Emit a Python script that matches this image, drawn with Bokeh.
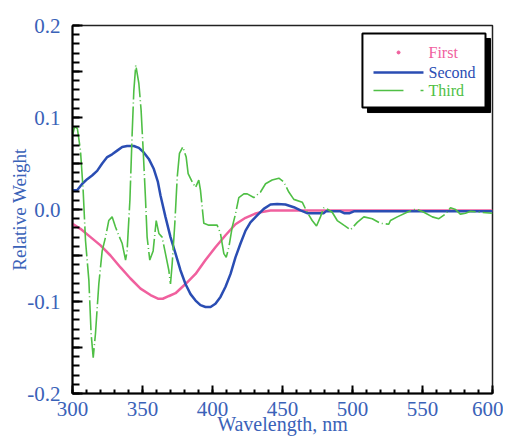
from bokeh.plotting import figure
from bokeh.models import Range1d, FixedTicker, BoxAnnotation
from bokeh.core.properties import value
from bokeh.embed import file_html
from bokeh.resources import INLINE
import numpy as np

# ---------------- data ----------------
wl_first = [300, 305.7, 312.9, 320, 327.1, 334.3, 341.4, 348.6, 355.7, 361, 364.5, 369,
            373.6, 380.7, 387.9, 395, 402.1, 409.3, 416.4, 423.6, 430.2, 434.3, 441.4,
            460, 500, 550, 600]
first = [-0.0156, -0.021, -0.030, -0.039, -0.050, -0.063, -0.075, -0.086, -0.093, -0.097,
         -0.097, -0.094, -0.091, -0.081, -0.070, -0.055, -0.041, -0.028, -0.016, -0.009,
         -0.0047, -0.003, -0.001, -0.001, -0.001, -0.001, -0.001]

wl_second = [300, 303.3, 307, 310.5, 314, 317.6, 321.2, 324.8, 328.3, 331.9, 335.5, 339,
             343.8, 347.4, 350.9, 354.5, 358.1, 361, 362.9, 366.4, 370, 373.6, 377.1,
             380.7, 384.3, 387.9, 391.4, 395, 398.6, 402.1, 405.7, 409.3, 412.9, 416.4,
             420, 423.6, 427.1, 431.9, 436.6, 441.4, 446.2, 452.1, 458.1, 462.9, 467.6,
             479.5, 481, 491.4, 494, 498, 501, 530, 560, 600]
second = [0.021, 0.021, 0.028, 0.033, 0.037, 0.042, 0.050, 0.057, 0.060, 0.064, 0.068,
          0.069, 0.069, 0.067, 0.062, 0.055, 0.044, 0.030, 0.015, -0.008, -0.030, -0.048,
          -0.066, -0.081, -0.092, -0.099, -0.104, -0.106, -0.106, -0.1025, -0.095, -0.084,
          -0.070, -0.052, -0.037, -0.023, -0.014, -0.0065, 0.0007, 0.0054, 0.006, 0.0054,
          0.0025, -0.001, -0.004, -0.004, -0.002, -0.002, -0.004, -0.004, -0.002, -0.002,
          -0.002, -0.002]

wl_third = [300, 301.5, 303.5, 305.7, 307.6, 309.3, 311.7, 313.3, 314.8, 316.4, 318.8,
            321.2, 323.6, 325.9, 328.3, 330.7, 333.0, 335.5, 337.9, 339.0, 341.0, 342.6,
            343.8, 345.2, 347.4, 349.0, 350.5, 352.1, 353.3, 355.2, 357.6, 359.8, 361.7,
            364.0, 366.4, 368.8, 370.0, 371.2, 373.1, 374.8, 376.4, 378.8, 381.2, 382.6,
            385.5, 387.9, 390.2, 391.4, 392.6, 393.8, 397.4, 403.3, 405.7, 408.1, 409.8,
            411.7, 414.1, 416.4, 418.8, 422.4, 424.8, 429.5, 434.3, 437.9, 442.6, 447.4,
            450.9, 454.5, 458.1, 464.1, 467.6, 471.2, 474.3, 477.1, 479.5, 482.4, 485.5,
            489.1, 493.8, 498.6, 503.4, 508.1, 514.1, 520.0, 525.9, 527.1, 532.0, 539.0,
            543.8, 546.0, 551.0, 557.0, 561.7, 566.4, 570.0, 573.6, 577.0, 580.7, 584.3,
            591.4, 600.0]
third = [0.080, 0.090, 0.088, 0.064, 0.021, -0.034, -0.077, -0.135, -0.161, -0.135, -0.081,
         -0.045, -0.030, -0.012, -0.008, -0.019, -0.028, -0.037, -0.055, -0.045, 0.010, 0.082,
         0.129, 0.157, 0.137, 0.108, 0.064, 0.013, -0.030, -0.055, -0.045, -0.012, -0.026,
         -0.030, -0.048, -0.066, -0.081, -0.059, -0.015, 0.035, 0.061, 0.068, 0.057, 0.039,
         0.030, 0.024, 0.032, 0.021, 0.003, -0.015, -0.017, -0.017, -0.026, -0.048, -0.052,
         -0.041, -0.019, -0.005, 0.013, 0.017, 0.017, 0.013, 0.019, 0.028, 0.032, 0.034,
         0.030, 0.019, 0.011, 0.008, -0.003, -0.012, -0.018, -0.008, 0.002, 0.000, -0.003,
         -0.012, -0.017, -0.022, -0.014, -0.008, -0.010, -0.015, -0.016, -0.012, -0.008, -0.003,
         0.000, 0.000, -0.003, -0.008, -0.010, -0.005, 0.002, 0.000, -0.005, -0.004, -0.002,
         -0.003, -0.004]

series_names = ["First", "Second", "Third"]
x_ticks = [300, 350, 400, 450, 500, 550, 600]
y_ticks = [-0.2, -0.15, -0.1, -0.05, 0.0, 0.05, 0.1, 0.15, 0.2]
y_tick_labels = ["-0.2", "", "-0.1", "", "0.0", "", "0.1", "", "0.2"]
x_label = "Wavelength, nm"
y_label = "Relative Weight"

# ---------------- style ----------------
PINK = "#f0609e"
BLUE = "#2a4db3"
GREEN = "#4fbf45"
LBLUE = "#3a62b8"
FONT = "Liberation Serif"

p = figure(width=503, height=443, output_backend="svg", toolbar_location=None,
           x_range=Range1d(300, 600), y_range=Range1d(-0.2, 0.2),
           min_border_left=72, min_border_right=11, min_border_top=25, min_border_bottom=50)
p.grid.visible = False
p.outline_line_color = "#222222"
p.outline_line_width = 1.5
p.background_fill_color = "white"
p.border_fill_color = "white"

# axes
p.xaxis.ticker = FixedTicker(ticks=x_ticks, minor_ticks=list(np.arange(300, 601, 10)))
p.yaxis.ticker = FixedTicker(ticks=y_ticks,
                             minor_ticks=[round(v, 2) for v in np.arange(-0.2, 0.2001, 0.01)])
p.yaxis.major_label_overrides = {t: l for t, l in zip(y_ticks, y_tick_labels)}
p.xaxis.major_label_overrides = {t: str(t) for t in x_ticks}

for ax in (p.xaxis[0], p.yaxis[0]):
    ax.axis_line_color = "black"
    ax.axis_line_width = 2
    ax.major_tick_line_color = "black"
    ax.minor_tick_line_color = "black"
    ax.major_tick_line_width = 2
    ax.minor_tick_line_width = 2
    ax.major_tick_out = 0
    ax.minor_tick_out = 0
    ax.major_label_text_font = FONT
    ax.major_label_text_font_size = "21px"
    ax.major_label_text_color = LBLUE
    ax.axis_label_text_font = FONT
    ax.axis_label_text_font_style = "normal"
    ax.axis_label_text_color = LBLUE

p.xaxis.major_tick_in = 8
p.xaxis.minor_tick_in = 4
p.yaxis.major_tick_in = 10
p.yaxis.minor_tick_in = 7
p.xaxis.major_label_standoff = 8
p.yaxis.major_label_standoff = 12
p.xaxis.axis_label = x_label
p.yaxis.axis_label = y_label
p.xaxis.axis_label_text_font_size = "20px"
p.yaxis.axis_label_text_font_size = "19px"
p.xaxis.axis_label_standoff = -6
p.yaxis.axis_label_standoff = -6

# curves
p.line(wl_first, first, line_color=PINK, line_width=2.5)
p.line(wl_second, second, line_color=BLUE, line_width=2.5)
p.line(wl_third, third, line_color=GREEN, line_width=1.6, line_dash="30 3 1 3")

# legend (drawn manually, with drop shadow)
p.add_layout(BoxAnnotation(left=510.7, right=598.6, top=0.1859, bottom=0.1054,
                           fill_color="black", fill_alpha=1.0, line_color="black",
                           line_alpha=1.0, level="underlay"))
p.add_layout(BoxAnnotation(left=507.1, right=595.0, top=0.1913, bottom=0.1109,
                           fill_color="white", fill_alpha=1.0, line_color="black",
                           line_alpha=1.0, line_width=2, level="underlay"))
p.scatter([532.9], [0.1707], size=3, color=PINK)
p.segment([515.0], [0.1489], [550.7], [0.1489], line_color=BLUE, line_width=2.5)
p.segment([515.0, 548.6], [0.1293, 0.1293], [536.4, 550.7], [0.1293, 0.1293],
          line_color=GREEN, line_width=1.6)
p.text([554.3, 554.3, 554.3], [0.1707, 0.1489, 0.1293], text=series_names,
       text_color=[PINK, BLUE, GREEN], text_font=value(FONT), text_font_size="16px",
       text_baseline="middle", text_align="left")

open("out.html", "w").write(file_html(p, INLINE))
